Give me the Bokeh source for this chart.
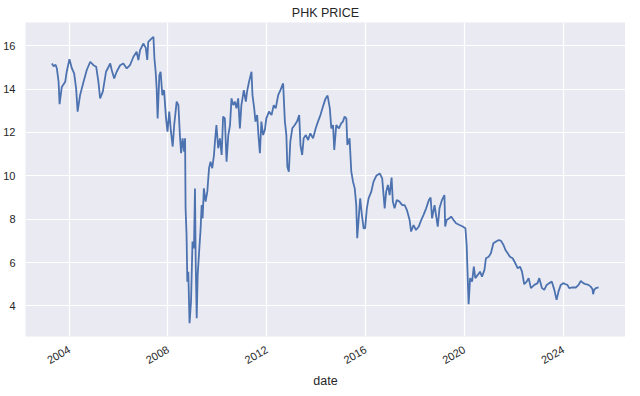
import math
import pandas as pd
from bokeh.plotting import figure
from bokeh.models import ColumnDataSource, Range1d, FixedTicker, DatetimeTickFormatter
from bokeh.embed import file_html
from bokeh.resources import INLINE

# ---- data (decimal year, price) ----
year_frac = [
    2003.30, 2003.37, 2003.45, 2003.50, 2003.57, 2003.61, 2003.70, 2003.84, 2003.90,
    2004.01, 2004.11, 2004.20, 2004.28, 2004.34, 2004.44, 2004.58, 2004.71, 2004.85, 2004.98,
    2005.09, 2005.18, 2005.25, 2005.36, 2005.49, 2005.66, 2005.72, 2005.82, 2005.92,
    2006.06, 2006.19, 2006.33, 2006.46, 2006.60, 2006.73, 2006.80, 2006.87,
    2007.00, 2007.10, 2007.16, 2007.20, 2007.34, 2007.41, 2007.45, 2007.50, 2007.54, 2007.58,
    2007.65, 2007.70, 2007.77, 2007.84, 2007.92, 2007.98,
    2008.05, 2008.12, 2008.19, 2008.25, 2008.35, 2008.42, 2008.48, 2008.53, 2008.59, 2008.65,
    2008.69, 2008.71, 2008.75, 2008.78, 2008.82, 2008.87, 2008.93, 2008.99,
    2009.05, 2009.09, 2009.12, 2009.16, 2009.20, 2009.25, 2009.32, 2009.36, 2009.40, 2009.45,
    2009.52, 2009.59, 2009.66, 2009.72, 2009.79, 2009.86, 2009.91, 2009.96,
    2010.03, 2010.10, 2010.17, 2010.23, 2010.30, 2010.37, 2010.44, 2010.51, 2010.57, 2010.64,
    2010.71, 2010.77, 2010.84, 2010.91, 2010.97,
    2011.07, 2011.15, 2011.20, 2011.28, 2011.38, 2011.42, 2011.49, 2011.54, 2011.61, 2011.66,
    2011.72, 2011.78, 2011.85, 2011.92, 2011.98,
    2012.09, 2012.19, 2012.28, 2012.36, 2012.46, 2012.55, 2012.66, 2012.73, 2012.79, 2012.83,
    2012.89, 2012.95,
    2013.03, 2013.13, 2013.22, 2013.31, 2013.36, 2013.43, 2013.49, 2013.58, 2013.67, 2013.76,
    2013.87, 2013.98,
    2014.07, 2014.17, 2014.27, 2014.38, 2014.46, 2014.55, 2014.61, 2014.68, 2014.73, 2014.81,
    2014.92,
    2015.01, 2015.08, 2015.15, 2015.22, 2015.26, 2015.35, 2015.42, 2015.49, 2015.56, 2015.62,
    2015.66, 2015.72, 2015.78, 2015.85, 2015.92, 2015.98,
    2016.05, 2016.12, 2016.23, 2016.32, 2016.43, 2016.57, 2016.67, 2016.77, 2016.83, 2016.90,
    2016.97,
    2017.05, 2017.10, 2017.17, 2017.26, 2017.37, 2017.48, 2017.58, 2017.67, 2017.78, 2017.84,
    2017.94,
    2018.04, 2018.15, 2018.25, 2018.34, 2018.45, 2018.56, 2018.63, 2018.69, 2018.79, 2018.85,
    2018.92, 2018.99,
    2019.09, 2019.19, 2019.22, 2019.28, 2019.39, 2019.46, 2019.56, 2019.66, 2019.80, 2019.93,
    2020.04, 2020.09, 2020.13, 2020.17, 2020.23, 2020.31, 2020.38, 2020.44, 2020.54, 2020.63,
    2020.71, 2020.81, 2020.87, 2020.98,
    2021.07, 2021.17, 2021.28, 2021.39, 2021.48, 2021.58, 2021.66, 2021.75, 2021.84, 2021.95,
    2022.06, 2022.15, 2022.25, 2022.33, 2022.42, 2022.52, 2022.60, 2022.69, 2022.83, 2022.96,
    2023.03, 2023.14, 2023.23, 2023.33, 2023.43, 2023.54, 2023.64, 2023.73, 2023.81, 2023.90,
    2024.00, 2024.10, 2024.17, 2024.24, 2024.37, 2024.51, 2024.62, 2024.71, 2024.81, 2024.91,
    2025.02, 2025.11, 2025.18, 2025.21, 2025.25, 2025.32, 2025.43,
]

price = [
    15.18, 15.05, 15.12, 14.95, 14.34, 13.30, 14.10, 14.34, 14.80,
    15.38, 14.95, 14.72, 14.03, 12.96, 13.72, 14.34, 14.88, 15.26, 15.10,
    15.03, 14.34, 13.57, 13.88, 14.80, 15.18, 14.88, 14.49, 14.80,
    15.10, 15.18, 14.95, 15.10, 15.49, 15.72, 15.34, 15.80,
    16.10, 15.90, 15.34, 16.18, 16.34, 16.41, 15.41, 14.80, 14.03, 12.65,
    14.64, 14.80, 13.72, 13.95, 12.65, 12.04,
    12.96, 12.04, 11.35, 12.34, 13.42, 13.26, 11.88, 11.04, 11.73, 11.12,
    11.73, 8.50, 7.27, 5.12, 5.58, 3.20, 4.20, 6.97,
    6.66, 9.42, 6.00, 3.43, 5.43, 6.35, 7.58, 8.65, 8.04, 9.42,
    8.81, 9.27, 10.35, 10.65, 10.35, 10.96, 11.73, 12.34,
    11.27, 11.73, 10.96, 12.73, 12.65, 10.65, 11.88, 12.34, 13.57, 13.26,
    13.42, 13.11, 13.57, 12.19, 13.26,
    13.95, 13.42, 13.88, 14.34, 14.80, 13.72, 13.11, 12.50, 12.80, 11.88,
    11.04, 12.50, 11.88, 12.11, 12.65,
    12.96, 12.80, 13.26, 13.11, 13.72, 13.95, 14.26, 12.50, 11.88, 10.42,
    10.19, 11.58,
    12.19, 12.34, 12.50, 12.80, 11.42, 10.96, 11.73, 11.88, 11.65, 11.96,
    11.73, 12.19,
    12.50, 12.80, 13.19, 13.57, 13.70, 13.11, 12.19, 12.34, 11.19, 12.34,
    12.19,
    12.42, 12.50, 12.73, 12.65, 11.42, 11.73, 10.19, 9.73, 9.42, 8.65,
    7.12, 8.04, 8.96, 8.19, 7.58, 7.58,
    8.50, 8.96, 9.27, 9.73, 10.00, 10.11, 9.88, 8.50, 9.27, 9.58,
    9.11,
    9.92, 8.81, 8.50, 8.88, 8.81, 8.65, 8.65, 8.42, 7.96, 7.43,
    7.73,
    7.50, 7.66, 7.96, 8.19, 8.50, 8.88, 9.00, 8.04, 8.65, 8.19,
    7.66, 8.50,
    8.88, 9.11, 7.66, 7.96, 8.04, 8.12, 7.96, 7.81, 7.73, 7.66,
    7.58, 6.81, 5.43, 4.08, 5.28, 5.12, 5.81, 5.28, 5.43, 5.58,
    5.35, 5.66, 6.20, 6.27,
    6.43, 6.89, 6.97, 7.04, 7.00, 6.81, 6.58, 6.43, 6.27, 6.20,
    5.97, 5.74, 5.81, 5.58, 5.00, 5.12, 5.28, 4.82, 4.97, 5.05,
    5.28, 4.82, 4.74, 4.97, 5.05, 5.12, 4.74, 4.28, 4.67, 4.97,
    5.05, 5.00, 4.97, 4.82, 4.85, 4.85, 4.97, 5.15, 5.05, 5.00,
    4.97, 4.89, 4.78, 4.54, 4.74, 4.82, 4.85,
]

tick_years = [2004, 2008, 2012, 2016, 2020, 2024]
y_ticks = [4, 6, 8, 10, 12, 14, 16]
x_limits = (2002.23, 2026.52)
y_limits = (2.59, 17.07)

TITLE = "PHK PRICE"
X_LABEL = "date"


def to_dt(yf):
    y = int(math.floor(yf))
    start = pd.Timestamp(year=y, month=1, day=1)
    end = pd.Timestamp(year=y + 1, month=1, day=1)
    return start + (end - start) * (yf - y)


def to_ms(ts):
    return ts.value / 1e6


dates = [to_dt(v) for v in year_frac]
source = ColumnDataSource(data=dict(date=dates, price=price))

BG = "#EAEAF2"
TXT = "#262626"
FONT = "Liberation Sans"

p = figure(
    x_axis_type="datetime",
    frame_width=600, frame_height=314,
    min_border_left=24, min_border_right=0, min_border_top=0, min_border_bottom=40,
    output_backend="svg", toolbar_location=None,
    x_range=Range1d(to_ms(to_dt(x_limits[0])), to_ms(to_dt(x_limits[1]))),
    y_range=Range1d(*y_limits),
    title=TITLE,
)

p.line("date", "price", source=source, line_color="#4C72B0", line_width=1.8)

p.background_fill_color = BG
p.border_fill_color = "white"
p.outline_line_color = None

p.title.align = "center"
p.title.text_font = FONT
p.title.text_font_size = "12.5px"
p.title.text_font_style = "normal"
p.title.text_color = TXT
p.title.standoff = 6

p.xaxis.ticker = FixedTicker(ticks=[to_ms(pd.Timestamp(year=y, month=1, day=1)) for y in tick_years])
p.xaxis.formatter = DatetimeTickFormatter(years="%Y", months="%Y", days="%Y")
p.yaxis.ticker = FixedTicker(ticks=y_ticks)
p.xaxis.major_label_orientation = math.pi / 6
p.xaxis.axis_label = X_LABEL

for ax in (p.xaxis, p.yaxis):
    ax.axis_line_color = None
    ax.major_tick_line_color = None
    ax.minor_tick_line_color = None
    ax.major_tick_out = 0
    ax.major_tick_in = 0
    ax.major_label_text_font = FONT
    ax.major_label_text_font_size = "11px"
    ax.major_label_text_color = TXT
    ax.axis_label_text_font = FONT
    ax.axis_label_text_font_size = "12.5px"
    ax.axis_label_text_font_style = "normal"
    ax.axis_label_text_color = TXT

p.yaxis.major_label_standoff = 10
p.xaxis.major_label_standoff = 12
p.xaxis.axis_label_standoff = 3

p.xgrid.grid_line_color = "white"
p.ygrid.grid_line_color = "white"
p.xgrid.grid_line_width = 1.2
p.ygrid.grid_line_width = 1.2

open("out.html", "w").write(file_html(p, INLINE))
